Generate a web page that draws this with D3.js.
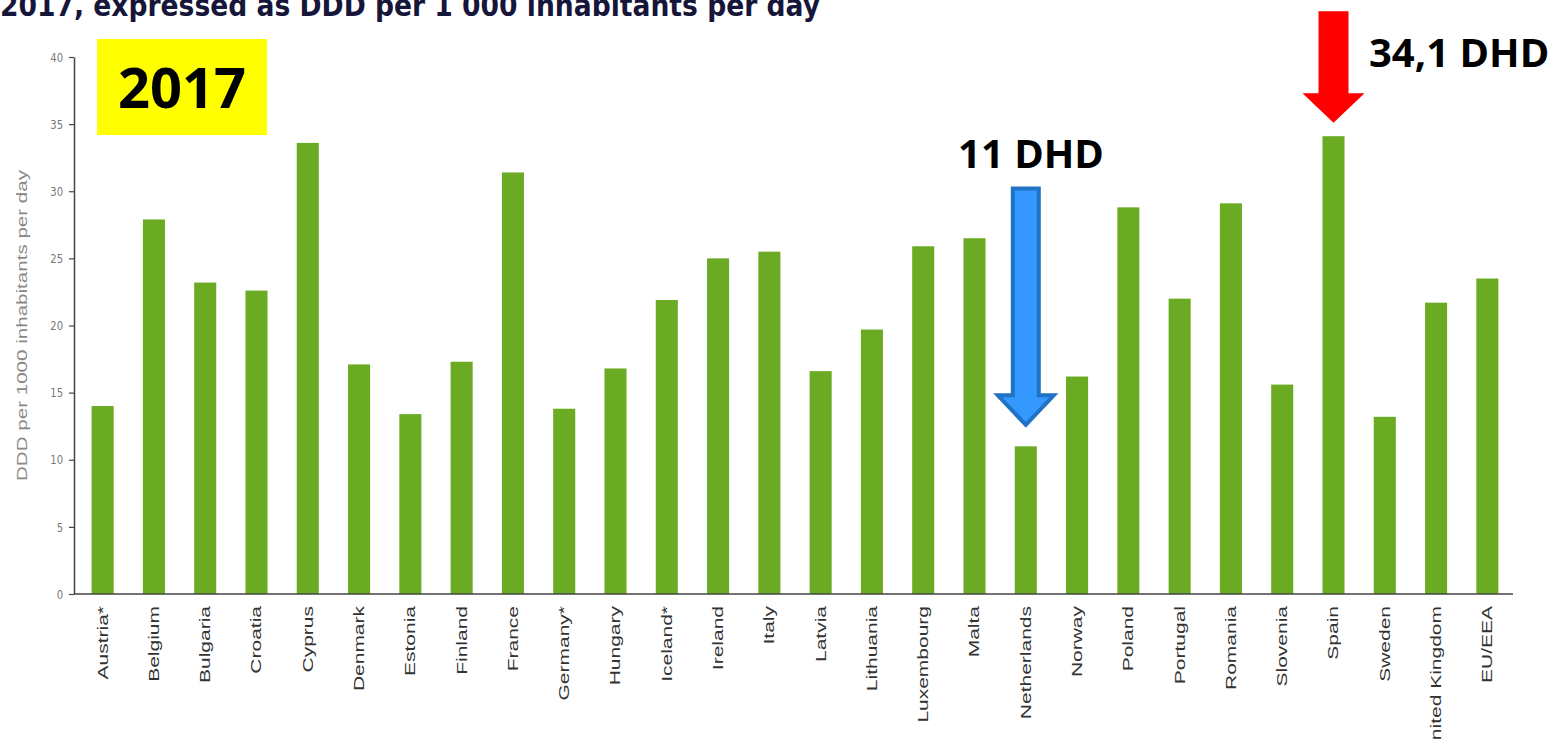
<!DOCTYPE html>
<html>
<head>
<meta charset="utf-8">
<script src="https://cdn.jsdelivr.net/npm/d3@7"></script>
<style>
    body { margin: 0; background: #fff; }
    svg { display: block; }
</style>
</head>
<body>
<div id="chart"></div>
<script>
const countries = [
    'Austria*', 'Belgium', 'Bulgaria', 'Croatia', 'Cyprus', 'Denmark', 'Estonia',
    'Finland', 'France', 'Germany*', 'Hungary', 'Iceland*', 'Ireland', 'Italy',
    'Latvia', 'Lithuania', 'Luxembourg', 'Malta', 'Netherlands', 'Norway', 'Poland',
    'Portugal', 'Romania', 'Slovenia', 'Spain', 'Sweden', 'United Kingdom', 'EU/EEA'
];
const values = [
    14.0, 27.9, 23.2, 22.6, 33.6, 17.1, 13.4,
    17.3, 31.4, 13.8, 16.8, 21.9, 25.0, 25.5,
    16.6, 19.7, 25.9, 26.5, 11.0, 16.2, 28.8,
    22.0, 29.1, 15.6, 34.1, 13.2, 21.7, 23.5
];
const yTicks = [0, 5, 10, 15, 20, 25, 30, 35, 40];

const titleText = '2017, expressed as DDD per 1 000 inhabitants per day';
const yLabel = 'DDD per 1000 inhabitants  per day';
const yearLabel = '2017';

// annotation arrows: [country, top, head start, tip] in data units
const arrows = [
    { country: 'Netherlands', top: 30.2, head: 14.8, tip: 12.6, text: '11 DHD', fill: '#3399ff', stroke: '#1f72c4' },
    { country: 'Spain', top: 43.4, head: 37.3, tip: 35.1, text: '34,1 DHD', fill: '#ff0000', stroke: 'none' },
];

const width = 1558;
const height = 740;
const margin = { top: 57, right: 45, bottom: 146, left: 74 };

const data = countries.map((c, i) => ({ country: c, value: values[i] }));

const svg = d3.select('#chart')
    .append('svg')
    .attr('width', width)
    .attr('height', height)
    .style('background', '#fff');

const xScale = d3.scaleBand()
    .domain(countries)
    .range([margin.left + 3, width - margin.right])
    .paddingInner(0.57)
    .paddingOuter(0.285);

const yScale = d3.scaleLinear()
    .domain([0, 40])
    .range([height - margin.bottom, margin.top]);

// title, cut off at the top of the picture
svg.append('text')
    .attr('transform', 'translate(0, 16) scale(1, 1.55)')
    .attr('textLength', 820)
    .attr('lengthAdjust', 'spacingAndGlyphs')
    .style('font-family', 'DejaVu Sans')
    .style('font-weight', 'bold')
    .style('font-size', '19px')
    .style('fill', '#16163a')
    .text(titleText);

svg.append('g')
    .selectAll('rect')
    .data(data)
    .join('rect')
    .attr('x', (d) => xScale(d.country))
    .attr('width', xScale.bandwidth())
    .attr('y', (d) => yScale(d.value))
    .attr('height', (d) => yScale(0) - yScale(d.value))
    .attr('fill', '#6aab23');

const yAxis = svg.append('g')
    .attr('transform', `translate(${margin.left}, 0)`)
    .call(d3.axisLeft(yScale).tickValues(yTicks).tickSize(5).tickSizeOuter(0).tickPadding(6));

yAxis.select('.domain').attr('stroke', '#444').attr('stroke-width', 1.5);
yAxis.selectAll('.tick line').attr('stroke', '#444').attr('stroke-width', 1.2);
yAxis.selectAll('.tick text')
    .attr('transform', 'scale(1, 1.3)')
    .attr('y', (d) => 0)
    .style('font-family', 'DejaVu Sans')
    .style('font-size', '10px')
    .style('fill', '#777');

const xAxis = svg.append('g')
    .attr('transform', `translate(0, ${yScale(0)})`)
    .call(d3.axisBottom(xScale).tickSize(0).tickSizeOuter(0));

xAxis.select('.domain').remove();
xAxis.selectAll('.tick text')
    .attr('y', 0)
    .attr('dy', '0.35em')
    .attr('transform', 'translate(0, 12) rotate(-90) scale(1.5, 1)')
    .style('text-anchor', 'end')
    .style('font-family', 'Liberation Sans')
    .style('font-size', '14px')
    .style('fill', '#333');

svg.append('line')
    .attr('x1', margin.left)
    .attr('x2', width - margin.right)
    .attr('y1', yScale(0))
    .attr('y2', yScale(0))
    .attr('stroke', '#444')
    .attr('stroke-width', 1.5);

svg.append('text')
    .attr('transform', `translate(27, ${(yScale(0) + yScale(40)) / 2}) rotate(-90) scale(1.47, 1)`)
    .style('text-anchor', 'middle')
    .style('font-family', 'Liberation Sans')
    .style('font-size', '14px')
    .style('fill', '#888')
    .text(yLabel);

// yellow year box
svg.append('rect')
    .attr('x', 97)
    .attr('y', 39)
    .attr('width', 170)
    .attr('height', 96)
    .attr('fill', '#ffff00');

svg.append('text')
    .attr('x', 182)
    .attr('y', 108)
    .style('text-anchor', 'middle')
    .style('font-family', 'Open Sans')
    .style('font-weight', 'bold')
    .style('font-size', '56px')
    .style('fill', '#000')
    .text(yearLabel);

function arrowPath(cx, top, head, tip, shaft, half) {
    return `M${cx - shaft},${top} L${cx + shaft},${top} L${cx + shaft},${head} L${cx + half},${head}
            L${cx},${tip} L${cx - half},${head} L${cx - shaft},${head} Z`;
}

arrows.forEach((a, i) => {
    const cx = xScale(a.country) + xScale.bandwidth() / 2;
    svg.append('path')
        .attr('d', i === 0
            ? arrowPath(cx, yScale(a.top), yScale(a.head), yScale(a.tip), 13, 28)
            : arrowPath(cx, yScale(a.top), yScale(a.head), yScale(a.tip), 15, 31))
        .attr('fill', a.fill)
        .attr('stroke', a.stroke)
        .attr('stroke-width', 4)
        .attr('stroke-linejoin', 'miter');
});

svg.append('text')
    .attr('x', 1031)
    .attr('y', 168)
    .style('text-anchor', 'middle')
    .style('font-family', 'Open Sans')
    .style('font-weight', 'bold')
    .style('font-size', '40px')
    .text(arrows[0].text);

svg.append('text')
    .attr('x', 1369)
    .attr('y', 67)
    .style('font-family', 'Open Sans')
    .style('font-weight', 'bold')
    .style('font-size', '40px')
    .text(arrows[1].text);
</script>
</body>
</html>
